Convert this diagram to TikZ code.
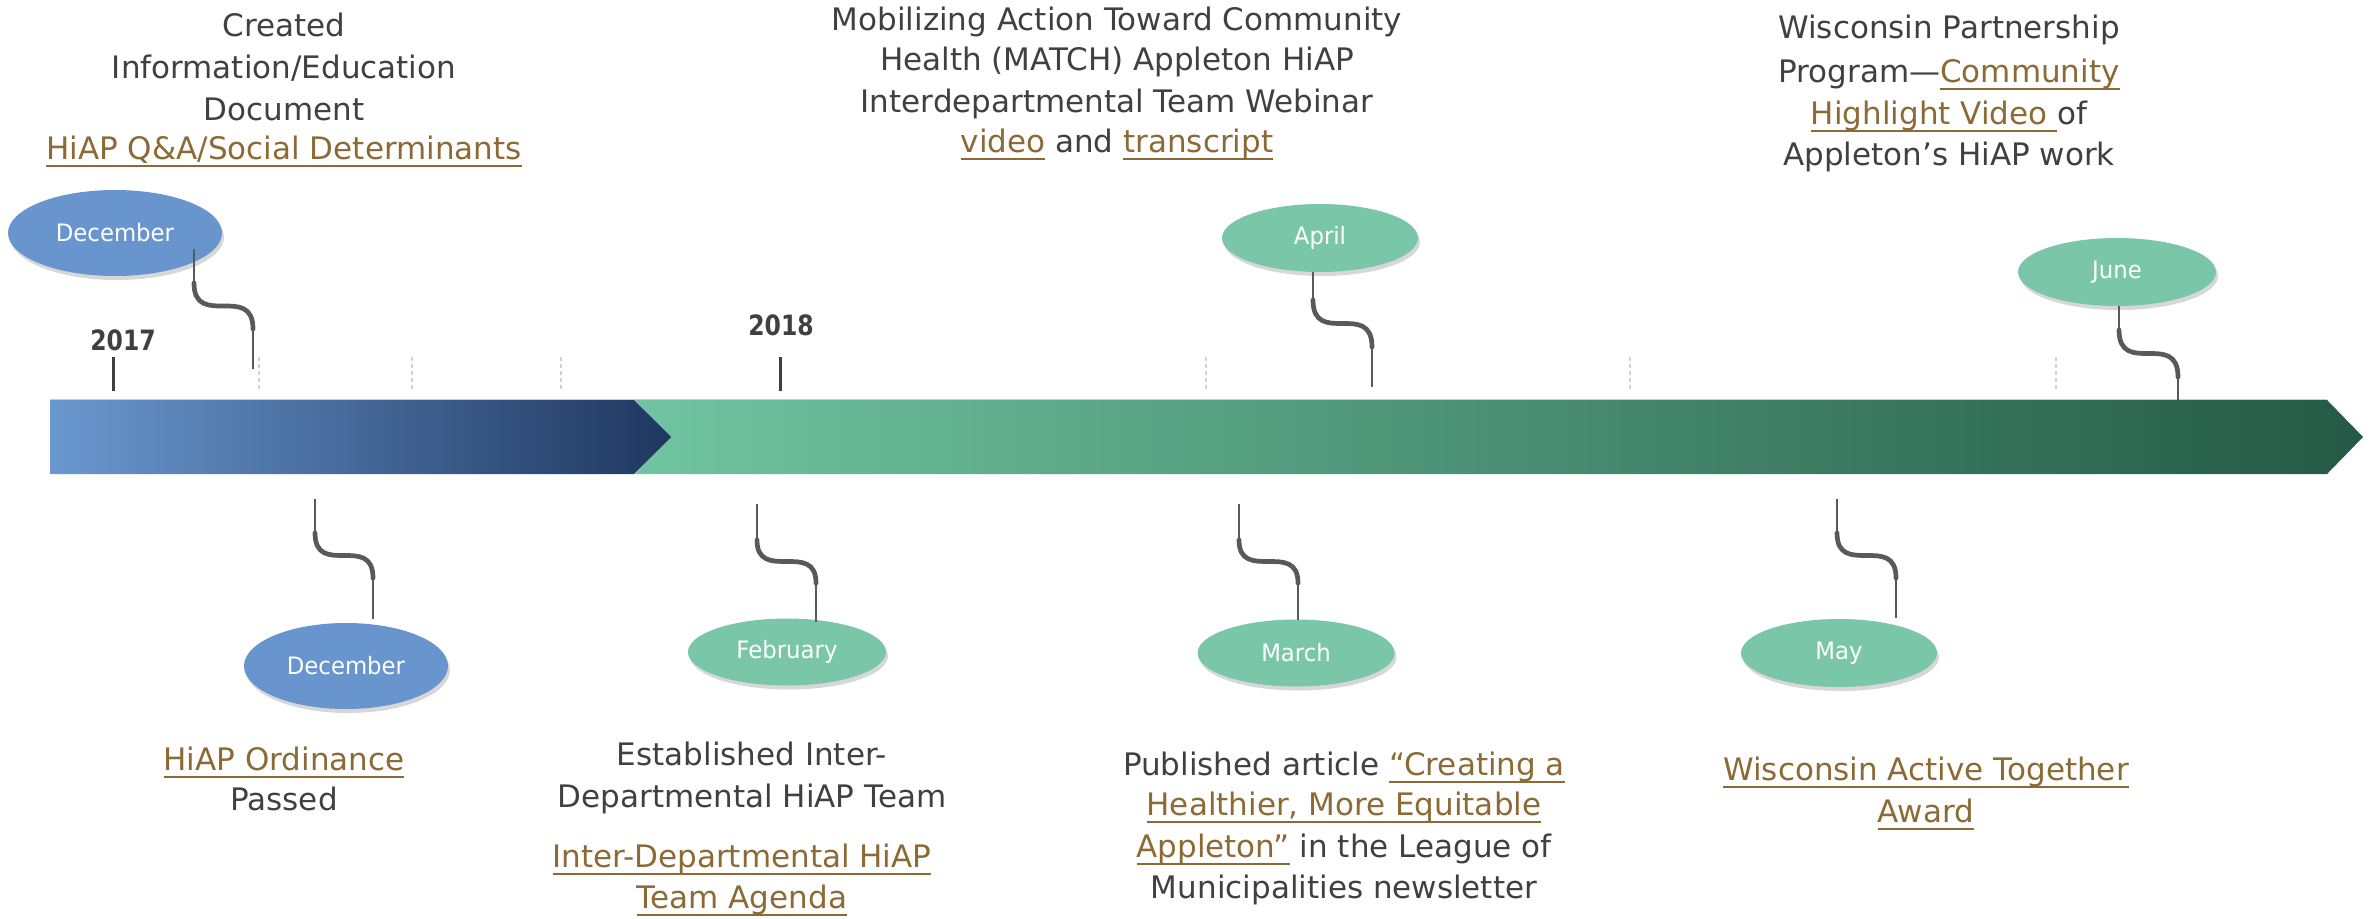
\documentclass[tikz,border=0pt]{standalone}
\usepackage{fontspec}
\setmainfont{DejaVu Sans}
\newfontfamily\monthfont{DejaVu Sans}[FakeStretch=0.95]
\newfontfamily\yearfont{DejaVu Sans}[FakeStretch=0.84]
\usetikzlibrary{shapes.geometric,shadows}
\definecolor{txtc}{HTML}{404040}
\definecolor{linkc}{HTML}{8C6A35}
\definecolor{blueL}{HTML}{6A98CF}
\definecolor{blueD}{HTML}{1F3760}
\definecolor{greenL}{HTML}{70C4A2}
\definecolor{greenD}{HTML}{245A45}
\definecolor{ellB}{HTML}{6895CE}
\definecolor{ellG}{HTML}{7AC6A9}
\definecolor{conn}{HTML}{595959}
\newsavebox{\lnkbox}
\newcommand{\lnk}[1]{{\color{linkc}\sbox{\lnkbox}{#1}\rlap{\rule[-8pt]{\wd\lnkbox}{2.5pt}}\usebox{\lnkbox}}}
\tikzset{
  x=1pt, y=-1pt,
  txt/.style={anchor=base, inner sep=0pt, text=txtc, font=\fontsize{31}{37}\selectfont},
  month/.style={ellipse, draw=none, inner sep=0pt, text=white,
    font=\monthfont\fontsize{24}{28}\selectfont,
    drop shadow={shadow xshift=2pt, shadow yshift=-4pt, opacity=.35, fill=black!45}},
  monthB/.style={month, fill=ellB},
  monthG/.style={month, fill=ellG},
  year/.style={anchor=base, inner sep=0pt, text=txtc, font=\yearfont\bfseries\fontsize{28}{30}\selectfont},
  thinc/.style={draw=conn, line width=1.7pt},
  scurve/.style={draw=conn, line width=4.7pt, line cap=round},
  minortick/.style={draw=black!18, line width=1.2pt, dash pattern=on 4pt off 3pt},
  majortick/.style={draw=txtc, line width=3pt},
}
\begin{document}
\begin{tikzpicture}
\useasboundingbox (0,0) rectangle (2379,918);

% ---- bar ----
\shade[left color=greenL, right color=greenD] (635,400) -- (2327,400) -- (2363,437) -- (2327,474) -- (635,474) -- (670,437) -- cycle;
\shade[left color=blueL, right color=blueD] (50,400) -- (634,400) -- (671,437) -- (634,474) -- (50,474) -- cycle;
\draw[black!20, line width=1.2pt] (50,399.5) -- (2327,399.5);

% ---- ticks ----
\foreach \xx in {259,412,561,1206,1630,2056} \draw[minortick] (\xx,357) -- (\xx,391);
\draw[majortick] (113,357) -- (113,391);
\draw[majortick] (780,357) -- (780,391);
\node[year] (y2017) at (123,350) {2017};
\node[year] (y2018) at (781,335) {2018};

% ---- month ellipses ----
\node[monthB, minimum width=214pt, minimum height=86pt] (decT) at (115,233) {December};
\node[monthG, minimum width=196pt, minimum height=68pt] (apr) at (1320,238) {April};
\node[monthG, minimum width=198pt, minimum height=68pt] (jun) at (2117,272) {June};
\node[monthB, minimum width=204pt, minimum height=86pt] (decB) at (346,666) {December};
\node[monthG, minimum width=198pt, minimum height=67pt] (feb) at (787,652) {February};
\node[monthG, minimum width=197pt, minimum height=67pt] (mar) at (1296,653) {March};
\node[monthG, minimum width=196pt, minimum height=68pt] (may) at (1839,653) {May};

% ---- connectors ----
% December (top)
\coordinate (dT1) at (194,249); \coordinate (dT2) at (194,283);
\coordinate (dT3) at (253,329); \coordinate (dT4) at (253,369);
\draw[thinc] (dT1) -- (dT2);
\draw[scurve] (dT2) .. controls +(0,46) and +(0,-46) .. (dT3);
\draw[thinc] (dT3) -- (dT4);
% April
\coordinate (a1) at (1313,272); \coordinate (a2) at (1313,300);
\coordinate (a3) at (1372,347); \coordinate (a4) at (1372,387);
\draw[thinc] (a1) -- (a2);
\draw[scurve] (a2) .. controls +(0,47) and +(0,-47) .. (a3);
\draw[thinc] (a3) -- (a4);
% June
\coordinate (j1) at (2119,306); \coordinate (j2) at (2119,330);
\coordinate (j3) at (2178,377); \coordinate (j4) at (2178,400);
\draw[thinc] (j1) -- (j2);
\draw[scurve] (j2) .. controls +(0,47) and +(0,-47) .. (j3);
\draw[thinc] (j3) -- (j4);
% December (bottom)
\coordinate (dB1) at (315,499); \coordinate (dB2) at (315,533);
\coordinate (dB3) at (373,578); \coordinate (dB4) at (373,619);
\draw[thinc] (dB1) -- (dB2);
\draw[scurve] (dB2) .. controls +(0,45) and +(0,-45) .. (dB3);
\draw[thinc] (dB3) -- (dB4);
% February
\coordinate (f1) at (757,504); \coordinate (f2) at (757,540);
\coordinate (f3) at (816,583); \coordinate (f4) at (816,622);
\draw[thinc] (f1) -- (f2);
\draw[scurve] (f2) .. controls +(0,43) and +(0,-43) .. (f3);
\draw[thinc] (f3) -- (f4);
% March
\coordinate (m1) at (1239,504); \coordinate (m2) at (1239,540);
\coordinate (m3) at (1298,583); \coordinate (m4) at (1298,620);
\draw[thinc] (m1) -- (m2);
\draw[scurve] (m2) .. controls +(0,43) and +(0,-43) .. (m3);
\draw[thinc] (m3) -- (m4);
% May
\coordinate (y1) at (1837,499); \coordinate (y2) at (1837,533);
\coordinate (y3) at (1896,578); \coordinate (y4) at (1896,618);
\draw[thinc] (y1) -- (y2);
\draw[scurve] (y2) .. controls +(0,45) and +(0,-45) .. (y3);
\draw[thinc] (y3) -- (y4);

% ---- texts top ----
\node[txt] (tl1) at (284,36) {Created};
\node[txt] (tl2) at (284,78) {Information/Education};
\node[txt] (tl3) at (284,120) {Document};
\node[txt] (tl4) at (284,159) {\lnk{HiAP Q\&A/Social Determinants}};

\node[txt] (tm1) at (1117,30) {Mobilizing Action Toward Community};
\node[txt] (tm2) at (1117,70) {Health (MATCH) Appleton HiAP};
\node[txt] (tm3) at (1117,112) {Interdepartmental Team Webinar};
\node[txt] (tm4) at (1117,152) {\lnk{video} and \lnk{transcript}};

\node[txt] (tr1) at (1949,38) {Wisconsin Partnership};
\node[txt] (tr2) at (1949,82) {Program—\lnk{Community}};
\node[txt] (tr3) at (1949,124) {\lnk{Highlight Video\ }of};
\node[txt] (tr4) at (1949,165) {Appleton’s HiAP work};

% ---- texts bottom ----
\node[txt] (bl1) at (284,770) {\lnk{HiAP Ordinance}};
\node[txt] (bl2) at (284,810) {Passed};

\node[txt] (bf1) at (752,765) {Established Inter-};
\node[txt] (bf2) at (752,807) {Departmental HiAP Team};
\node[txt] (bf3) at (742,867) {\lnk{Inter-Departmental HiAP}};
\node[txt] (bf4) at (742,908) {\lnk{Team Agenda}};

\node[txt] (bm1) at (1344,775) {Published article \lnk{“Creating a}};
\node[txt] (bm2) at (1344,815) {\lnk{Healthier, More Equitable}};
\node[txt] (bm3) at (1344,857) {\lnk{Appleton”} in the League of};
\node[txt] (bm4) at (1344,898) {Municipalities newsletter};

\node[txt] (br1) at (1926,780) {\lnk{Wisconsin Active Together}};
\node[txt] (br2) at (1926,822) {\lnk{Award}};
\end{tikzpicture}
\end{document}
